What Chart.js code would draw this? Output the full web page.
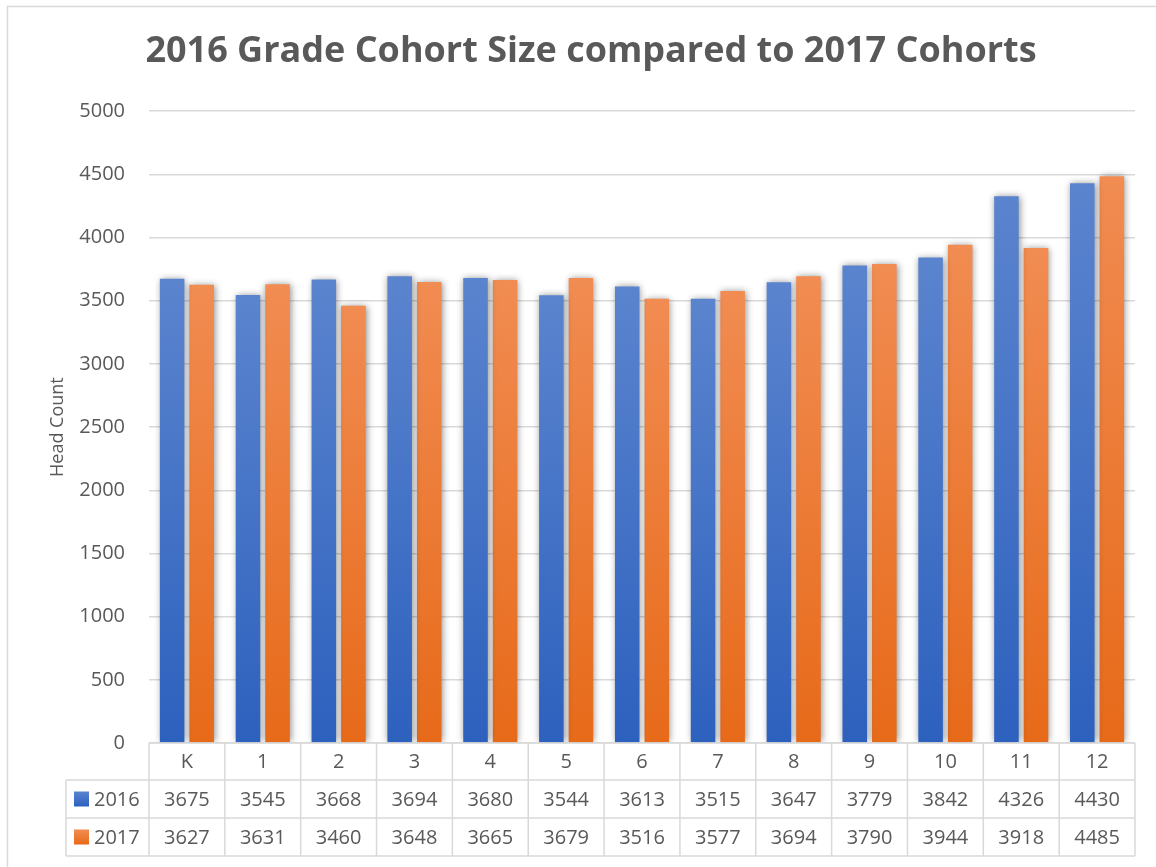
<!DOCTYPE html>
<html>
<head>
<meta charset="utf-8">
<script src="https://cdn.jsdelivr.net/npm/chart.js@4.4.1/dist/chart.umd.min.js"></script>
<style>
  body { margin: 0; background: #fff; }
  #wrap { width: 1156px; height: 867px; }
</style>
</head>
<body>
<div id="wrap"><canvas id="myChart" width="1156" height="867"></canvas></div>
<script>
// chart data
const grades = ['K', '1', '2', '3', '4', '5', '6', '7', '8', '9', '10', '11', '12'];
const count2016 = [3675, 3545, 3668, 3694, 3680, 3544, 3613, 3515, 3647, 3779, 3842, 4326, 4430];
const count2017 = [3627, 3631, 3460, 3648, 3665, 3679, 3516, 3577, 3694, 3790, 3944, 3918, 4485];
const seriesNames = ['2016', '2017'];
const yTicks = [0, 500, 1000, 1500, 2000, 2500, 3000, 3500, 4000, 4500, 5000];

const textColor = '#595959';
const lineColor = '#d9d9d9';
const blue = ['#5b84ce', '#2d61be'];
const orange = ['#f18c52', '#e76a19'];

// gradient from top of each bar down to the axis
function barGradient(context, colors) {
  const chart = context.chart;
  const area = chart.chartArea;
  if (!area || context.raw === undefined) return colors[1];
  const top = chart.scales.y.getPixelForValue(context.raw);
  const g = chart.ctx.createLinearGradient(0, top, 0, area.bottom);
  g.addColorStop(0, colors[0]);
  g.addColorStop(1, colors[1]);
  return g;
}

// border + white background
const frame = {
  id: 'frame',
  beforeDraw(chart) {
    const ctx = chart.ctx;
    ctx.save();
    ctx.fillStyle = '#fff';
    ctx.fillRect(0, 0, chart.width, chart.height);
    ctx.strokeStyle = lineColor;
    ctx.lineWidth = 1.5;
    ctx.strokeRect(7.5, 6.5, chart.width + 10, chart.height + 10);
    ctx.restore();
  }
};

// soft shadow behind bars
const barShadow = {
  id: 'barShadow',
  beforeDatasetsDraw(chart) {
    const ctx = chart.ctx;
    ctx.save();
    ctx.shadowColor = 'rgba(0,0,0,0.45)';
    ctx.shadowBlur = 7;
    ctx.shadowOffsetX = 1;
    ctx.shadowOffsetY = 0;
  },
  afterDatasetsDraw(chart) {
    chart.ctx.restore();
  }
};

// data table under the plot
const dataTable = {
  id: 'dataTable',
  afterDraw(chart) {
    const ctx = chart.ctx;
    const a = chart.chartArea;
    const n = grades.length;
    const w = (a.right - a.left) / n;
    const y0 = a.bottom, y1 = y0 + 37, y2 = y1 + 38, y3 = y2 + 38;
    const leftX = 66;
    const rows = [count2016, count2017];
    const swatches = [blue, orange];

    ctx.save();
    ctx.strokeStyle = lineColor;
    ctx.lineWidth = 1.5;
    ctx.beginPath();
    for (let i = 0; i <= n; i++) {
      const x = a.left + i * w;
      ctx.moveTo(x, y0);
      ctx.lineTo(x, y3);
    }
    ctx.moveTo(leftX, y1);
    ctx.lineTo(leftX, y3);
    ctx.moveTo(a.left, y0);
    ctx.lineTo(a.right, y0);
    [y1, y2, y3].forEach(y => {
      ctx.moveTo(leftX, y);
      ctx.lineTo(a.right, y);
    });
    ctx.stroke();

    ctx.fillStyle = textColor;
    ctx.font = '20px "Open Sans"';
    ctx.textAlign = 'center';
    ctx.textBaseline = 'middle';
    grades.forEach((g, i) => {
      ctx.fillText(g, a.left + (i + 0.5) * w, (y0 + y1) / 2 + 1);
    });
    rows.forEach((vals, r) => {
      const top = r === 0 ? y1 : y2;
      const mid = top + 19;
      vals.forEach((v, i) => {
        ctx.fillText(String(v), a.left + (i + 0.5) * w, mid + 1);
      });
      const grd = ctx.createLinearGradient(0, mid - 7.5, 0, mid + 7.5);
      grd.addColorStop(0, swatches[r][0]);
      grd.addColorStop(1, swatches[r][1]);
      ctx.fillStyle = grd;
      ctx.fillRect(74, mid - 7.5, 15, 15);
      ctx.fillStyle = textColor;
      ctx.textAlign = 'left';
      ctx.fillText(seriesNames[r], 94, mid + 1);
      ctx.textAlign = 'center';
    });
    ctx.restore();
  }
};

let ctx = document.getElementById('myChart').getContext('2d');
let myChart = new Chart(ctx, {
  type: 'bar',
  data: {
    labels: grades,
    datasets: [
      {
        label: seriesNames[0],
        data: count2016,
        backgroundColor: c => barGradient(c, blue),
        categoryPercentage: 0.78,
        barPercentage: 0.83
      },
      {
        label: seriesNames[1],
        data: count2017,
        backgroundColor: c => barGradient(c, orange),
        categoryPercentage: 0.78,
        barPercentage: 0.83
      }
    ]
  },
  options: {
    responsive: false,
    animation: false,
    layout: { padding: { top: 0, left: 47, right: 21, bottom: 124 } },
    plugins: {
      legend: { display: false },
      tooltip: { enabled: false },
      title: {
        display: true,
        text: '2016 Grade Cohort Size compared to 2017 Cohorts',
        color: textColor,
        font: { family: '"Open Sans"', size: 36, weight: 'bold', lineHeight: 1.2 },
        padding: { top: 30, bottom: 38 }
      }
    },
    scales: {
      x: { display: false },
      y: {
        min: 0,
        max: 5000,
        afterBuildTicks: axis => { axis.ticks = yTicks.map(v => ({ value: v })); },
        afterFit: axis => { axis.width = 102; },
        border: { display: false },
        grid: { color: lineColor, lineWidth: 1.5, drawTicks: false },
        ticks: {
          color: textColor,
          font: { family: '"Open Sans"', size: 20 },
          padding: 24,
          callback: v => String(v)
        },
        title: {
          display: true,
          text: 'Head Count',
          color: textColor,
          font: { family: '"Open Sans"', size: 18 },
          padding: 0
        }
      }
    }
  },
  plugins: [frame, barShadow, dataTable]
});
</script>
</body>
</html>
